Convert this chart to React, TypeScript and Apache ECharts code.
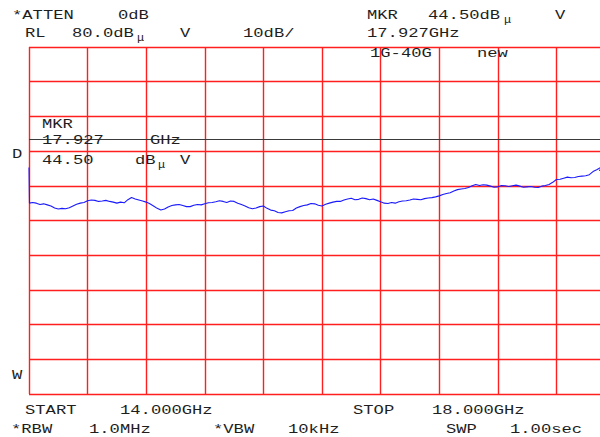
import React, { useEffect, useRef } from "react";
import * as echarts from "echarts";

// Sweep settings
const startGHz = 14;
const stopGHz = 18;
const refLevelDb = 80;
const dbPerDiv = 10;
const divisions = 10;

// Trace (frequency in GHz, level in dBμV)
const freqGHz = [
  14.0, 14.003, 14.025, 14.05, 14.075, 14.1, 14.125, 14.15, 14.175, 14.2, 14.225,
  14.25, 14.275, 14.3, 14.325, 14.35, 14.375, 14.4, 14.425, 14.45, 14.475,
  14.5, 14.525, 14.55, 14.575, 14.6, 14.625, 14.65, 14.675, 14.7, 14.725,
  14.75, 14.775, 14.8, 14.825, 14.85, 14.875, 14.9, 14.925, 14.95, 14.975,
  15.0, 15.025, 15.05, 15.075, 15.1, 15.125, 15.15, 15.175, 15.2, 15.225,
  15.25, 15.275, 15.3, 15.325, 15.35, 15.375, 15.4, 15.425, 15.45, 15.475,
  15.5, 15.525, 15.55, 15.575, 15.6, 15.625, 15.65, 15.675, 15.7, 15.725,
  15.75, 15.775, 15.8, 15.825, 15.85, 15.875, 15.9, 15.925, 15.95, 15.975,
  16.0, 16.025, 16.05, 16.075, 16.1, 16.125, 16.15, 16.175, 16.2, 16.225,
  16.25, 16.275, 16.3, 16.325, 16.35, 16.375, 16.4, 16.425, 16.45, 16.475,
  16.5, 16.525, 16.55, 16.575, 16.6, 16.625, 16.65, 16.675, 16.7, 16.725,
  16.75, 16.775, 16.8, 16.825, 16.85, 16.875, 16.9, 16.925, 16.95, 16.975,
  17.0, 17.025, 17.05, 17.075, 17.1, 17.125, 17.15, 17.175, 17.2, 17.225,
  17.25, 17.275, 17.3, 17.325, 17.35, 17.375, 17.4, 17.425, 17.45, 17.475,
  17.5, 17.525, 17.55, 17.575, 17.6, 17.625, 17.65, 17.675, 17.7, 17.725,
  17.75, 17.775, 17.8, 17.825, 17.85, 17.875, 17.9, 17.925, 17.95, 17.975, 18.0,
];
const levelDbuV = [
  45.3, 35.0, 35.2, 35.0, 34.6, 34.8, 34.5, 34.2, 33.6, 33.3, 33.5,
  33.4, 33.7, 34.2, 34.7, 35.0, 35.2, 35.7, 35.9, 35.8, 35.5,
  35.6, 35.8, 35.5, 35.3, 35.0, 35.3, 35.1, 36.0, 36.6, 36.2,
  35.9, 35.6, 35.3, 34.8, 34.2, 33.5, 33.0, 33.3, 33.9, 34.3,
  34.5, 34.6, 34.3, 34.0, 34.0, 34.4, 34.6, 34.5, 34.8, 35.1,
  35.2, 35.4, 35.7, 35.5, 35.2, 35.6, 35.5, 35.0, 34.6, 34.2,
  33.7, 33.4, 33.6, 34.0, 34.2, 33.5, 33.0, 32.8, 32.3, 32.2,
  32.5, 32.8, 32.9, 33.6, 34.0, 34.3, 34.5, 34.9, 34.8, 34.4,
  34.2, 34.7, 35.0, 35.3, 35.5, 35.5, 35.9, 36.2, 36.4, 36.0,
  36.1, 36.5, 36.3, 36.0, 36.2, 35.8, 35.4, 35.0, 34.9, 35.2,
  35.0, 35.4, 35.6, 35.7, 35.9, 36.2, 36.1, 36.0, 36.3, 36.5,
  36.6, 36.8, 37.1, 37.5, 37.8, 38.0, 38.5, 38.9, 39.1, 39.2,
  39.5, 40.0, 40.4, 40.1, 40.3, 40.2, 39.9, 39.6, 39.7, 40.1,
  40.0, 39.8, 40.0, 40.2, 39.9, 39.6, 39.7, 39.8, 39.6, 39.5,
  39.9, 40.1, 40.4, 41.0, 41.8, 41.9, 42.2, 42.5, 42.3, 42.4,
  42.7, 42.8, 42.9, 43.2, 44.1, 44.6, 45.2, 44.6, 45.0, 45.1, 45.3,
];

const markerFreqGHz = 17.927;
const markerLevel = 44.5;
const displayLineDb = 53.5;

const RED = "#ff1f1f";
const INK = "#1e1e1e";
const FONT = '"Liberation Mono", "DejaVu Sans Mono", monospace';

function txt(text: string, x: number, y: number, size = 13, sx = 1.32) {
  return {
    type: "text",
    x,
    y,
    scaleX: sx,
    z: 100,
    style: {
      text,
      font: `${size}px ${FONT}`,
      fill: INK,
      align: "left",
      verticalAlign: "middle",
    },
  };
}

export default function App() {
  const ref = useRef<HTMLDivElement>(null);

  useEffect(() => {
    if (!ref.current) return;
    const chart = echarts.init(ref.current, undefined, { renderer: "svg" });
    const trace = freqGHz.map((f, i) => [f, levelDbuV[i]]);
    const bottomDb = refLevelDb - dbPerDiv * divisions;

    chart.setOption({
      animation: false,
      backgroundColor: "#ffffff",
      grid: {
        left: 29,
        top: 47,
        width: 586,
        height: 347,
        show: false,
        outerBoundsMode: "none",
        containLabel: false,
      },
      xAxis: {
        type: "value",
        min: startGHz,
        max: stopGHz,
        interval: (stopGHz - startGHz) / divisions,
        axisLabel: { show: false },
        axisTick: { show: false },
        axisLine: { show: false },
        splitLine: { show: true, lineStyle: { color: RED, width: 1.4 } },
      },
      yAxis: {
        type: "value",
        min: bottomDb,
        max: refLevelDb,
        interval: dbPerDiv,
        axisLabel: { show: false },
        axisTick: { show: false },
        axisLine: { show: false },
        splitLine: { show: true, lineStyle: { color: RED, width: 1.4 } },
      },
      series: [
        {
          type: "line",
          data: trace,
          showSymbol: false,
          symbol: "none",
          lineStyle: { color: "#1a1aff", width: 1.1 },
          z: 5,
          markLine: {
            silent: true,
            symbol: "none",
            label: { show: false },
            lineStyle: { color: "#3a3a3a", width: 1.2, type: "solid" },
            data: [{ yAxis: displayLineDb }],
          },
        },
        {
          type: "scatter",
          data: [[markerFreqGHz, markerLevel]],
          symbol: "diamond",
          symbolSize: 10,
          itemStyle: { color: "#777", borderColor: "#222", borderWidth: 1 },
          z: 6,
        },
      ],
      graphic: [
        txt("*ATTEN", 12, 16),
        txt("0dB", 118, 16),
        txt("RL", 25, 34),
        txt("80.0dB", 72, 34),
        txt("μ", 137, 38, 10, 1.2),
        txt("V", 180, 34),
        txt("10dB/", 243, 34),
        txt("MKR", 367, 16),
        txt("44.50dB", 428, 16),
        txt("μ", 504, 20, 10, 1.2),
        txt("V", 555, 16),
        txt("17.927GHz", 367, 34),
        txt("1G-40G", 370, 54),
        txt("new", 477, 54),
        txt("MKR", 42, 125),
        txt("17.927", 42, 141),
        txt("GHz", 150, 141),
        txt("44.50", 42, 161),
        txt("dB", 135, 161),
        txt("μ", 158, 165, 10, 1.2),
        txt("V", 180, 161),
        txt("D", 12, 155),
        txt("W", 12, 376),
        txt("START", 25, 411),
        txt("14.000GHz", 120, 411),
        txt("STOP", 353, 411),
        txt("18.000GHz", 432, 411),
        txt("*RBW", 11, 430),
        txt("1.0MHz", 89, 430),
        txt("*VBW", 213, 430),
        txt("10kHz", 288, 430),
        txt("SWP", 446, 430),
        txt("1.00sec", 510, 430),
      ],
    });

    return () => chart.dispose();
  }, []);

  return (
    <div
      ref={ref}
      style={{
        position: "fixed",
        left: 0,
        top: 0,
        width: 600,
        height: 437,
        background: "#fff",
      }}
    />
  );
}
